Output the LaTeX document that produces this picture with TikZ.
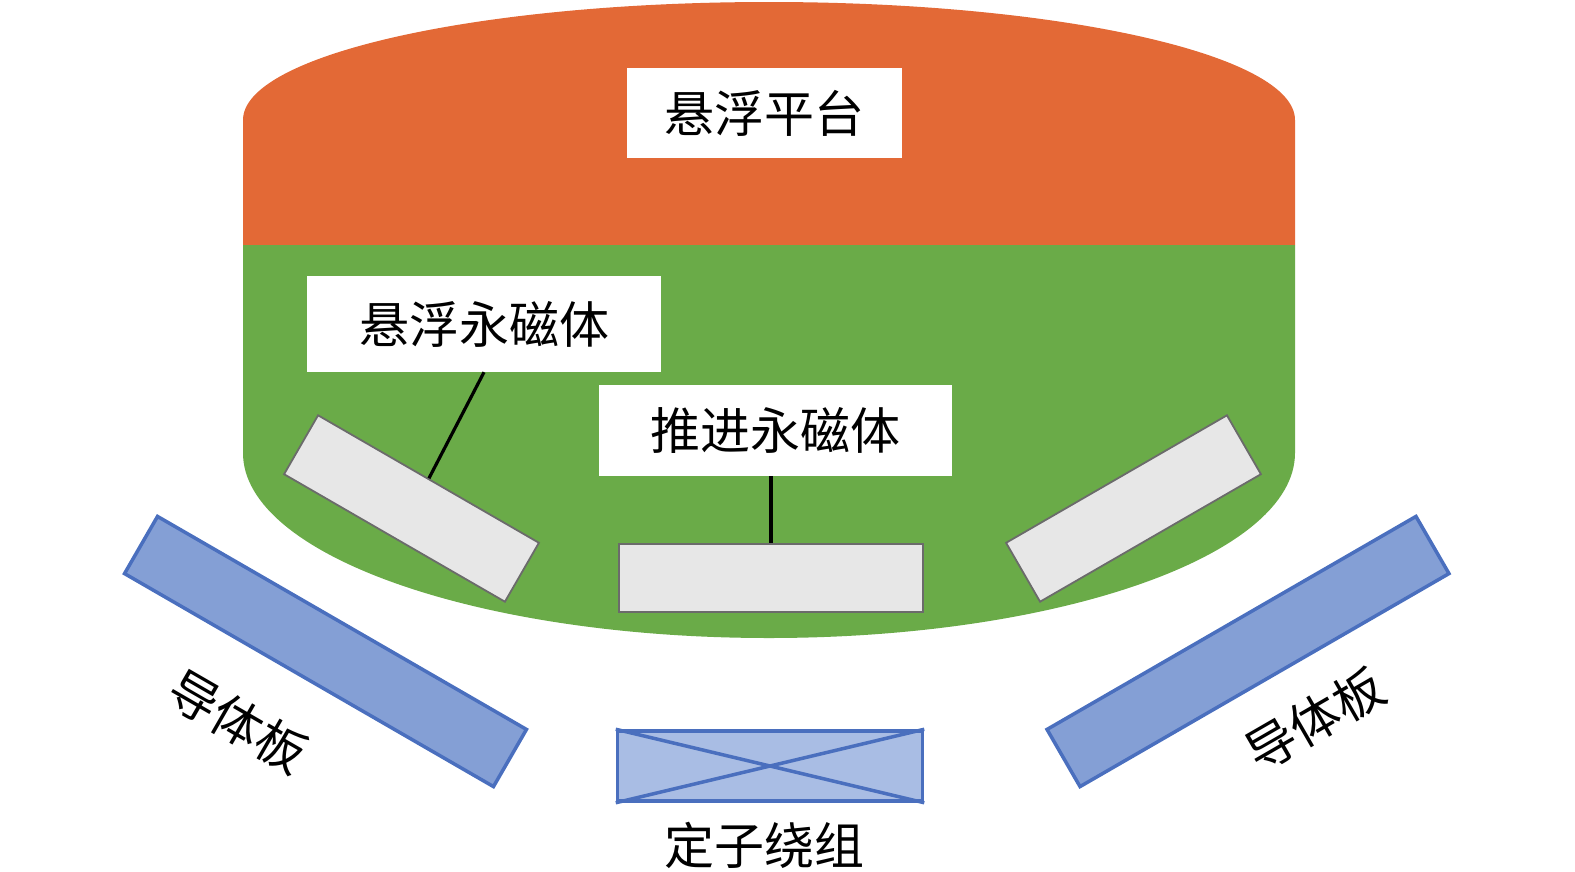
\documentclass[tikz,border=0pt]{standalone}
\usepackage{fontspec}
\newfontfamily\cjk{Noto Sans CJK SC}
\definecolor{orangeC}{HTML}{E36936}
\definecolor{greenC}{HTML}{6AAB48}
\definecolor{grayF}{HTML}{E7E7E7}
\definecolor{grayD}{HTML}{6B6B6B}
\definecolor{plateF}{HTML}{849FD5}
\definecolor{blueD}{HTML}{4A6FBE}
\definecolor{statorF}{HTML}{A9BDE4}
\tikzset{
  lbl/.style={fill=white, inner sep=0pt, font=\cjk\fontsize{50}{50}\selectfont},
  txt/.style={inner sep=0pt, font=\cjk\fontsize{50}{50}\selectfont},
  magnet/.style={draw=grayD, fill=grayF, line width=1.8pt, inner sep=0pt, minimum width=255pt, minimum height=68pt},
  plate/.style={draw=blueD, fill=plateF, line width=3.5pt, inner sep=0pt, minimum width=426pt, minimum height=66pt},
  leader/.style={draw=black, line width=3.2pt}
}
\begin{document}
\begin{tikzpicture}[x=1pt,y=-1pt]
\useasboundingbox (0,0) rectangle (1575,871);
% body
\fill[orangeC] (243,245) -- (243,120) arc[start angle=180,end angle=360,x radius=526,y radius=118] -- (1295,245) -- cycle;
\fill[greenC] (243,245) -- (243,453) arc[start angle=180,end angle=0,x radius=526,y radius=185] -- (1295,245) -- cycle;
% labels
\node[lbl, minimum width=275pt, minimum height=90pt] (platform) at (764,113) {悬浮平台};
\node[lbl, minimum width=354pt, minimum height=96pt] (suspbox) at (484,324) {悬浮永磁体};
\node[lbl, minimum width=353pt, minimum height=91pt] (propbox) at (775,430.5) {推进永磁体};
% magnets
\node[magnet, rotate=-30] (magL) at (411.5,508.5) {};
\node[magnet, rotate=30] (magR) at (1133.5,508.5) {};
\node[magnet, minimum width=304pt, minimum height=68pt] (magM) at (771,578) {};
% leaders
\draw[leader] (suspbox.south) -- (magL.north);
\draw[leader] (magM.north |- propbox.south) -- (magM.north);
% plates
\node[plate, rotate=-30] (plateL) at (325.5,651.5) {};
\node[plate, rotate=30] (plateR) at (1248,651.5) {};
\node[txt, rotate=-30] (plateLlbl) at (238,722) {导体板};
\node[txt, rotate=30] (plateRlbl) at (1315,720) {导体板};
% stator
\node[draw=blueD, fill=statorF, line width=3.5pt, inner sep=0pt, minimum width=305pt, minimum height=70pt] (stator) at (770,766) {};
\draw[blueD, line width=3.5pt] (stator.north west) -- (stator.south east) (stator.south west) -- (stator.north east);
\node[txt] (statorlbl) at (764,845) {定子绕组};
\end{tikzpicture}
\end{document}
